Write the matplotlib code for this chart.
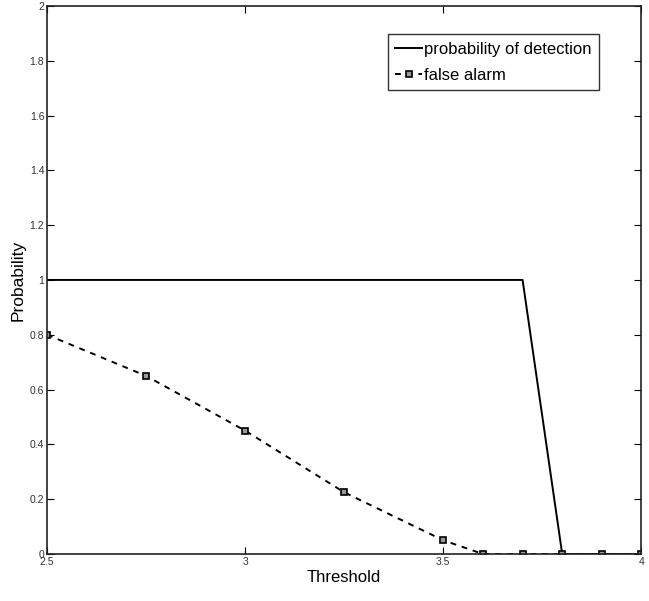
import matplotlib
matplotlib.use("Agg")
import matplotlib.pyplot as plt
from matplotlib.ticker import FuncFormatter

plt.rcParams['font.family'] = ['Liberation Sans', 'DejaVu Sans']

det_x = [2.5, 3.7, 3.8, 4.0]
det_y = [1.0, 1.0, 0.0, 0.0]
fa_x = [2.5, 2.75, 3.0, 3.25, 3.5, 3.6, 3.7, 3.8, 3.9, 4.0]
fa_y = [0.8, 0.65, 0.45, 0.225, 0.05, 0.0, 0.0, 0.0, 0.0, 0.0]
xticks = [2.5, 3, 3.5, 4]
yticks = [0, 0.2, 0.4, 0.6, 0.8, 1, 1.2, 1.4, 1.6, 1.8, 2]

fig = plt.figure(figsize=(6.49, 6.01), dpi=100)
ax = fig.add_axes([0.0724, 0.0782, 0.916, 0.912])

ax.plot(det_x, det_y, color='black', lw=1.4, label='probability of detection')
ax.plot(fa_x, fa_y, color='black', lw=1.4, ls=(0, (3, 3)), marker='s', ms=4.5,
        mfc='#999999', mec='black', mew=1.2, label='false alarm')

ax.set_xlim(2.5, 4)
ax.set_ylim(0, 2)
ax.set_xticks(xticks)
ax.set_yticks(yticks)
ax.xaxis.set_major_formatter(FuncFormatter(lambda v, p: f"{v:g}"))
ax.yaxis.set_major_formatter(FuncFormatter(lambda v, p: f"{v:g}"))
ax.tick_params(direction='in', length=5, width=0.8, labelsize=7.5, colors='black',
               labelcolor='#333333', top=True, right=True, pad=2)
for s in ax.spines.values():
    s.set_linewidth(1.2)
    s.set_color('#222222')

ax.set_xlabel('Threshold', fontsize=12, labelpad=2)
ax.set_ylabel('Probability', fontsize=12.5, labelpad=3)

leg = ax.legend(loc='upper right', bbox_to_anchor=(0.928, 0.948), fontsize=12,
                frameon=True, fancybox=False, edgecolor='black',
                handlelength=1.6, handletextpad=0.1, borderpad=0.45,
                labelspacing=0.65, borderaxespad=0)
leg.get_frame().set_linewidth(1.0)

fig.savefig('out.png', dpi=100)
